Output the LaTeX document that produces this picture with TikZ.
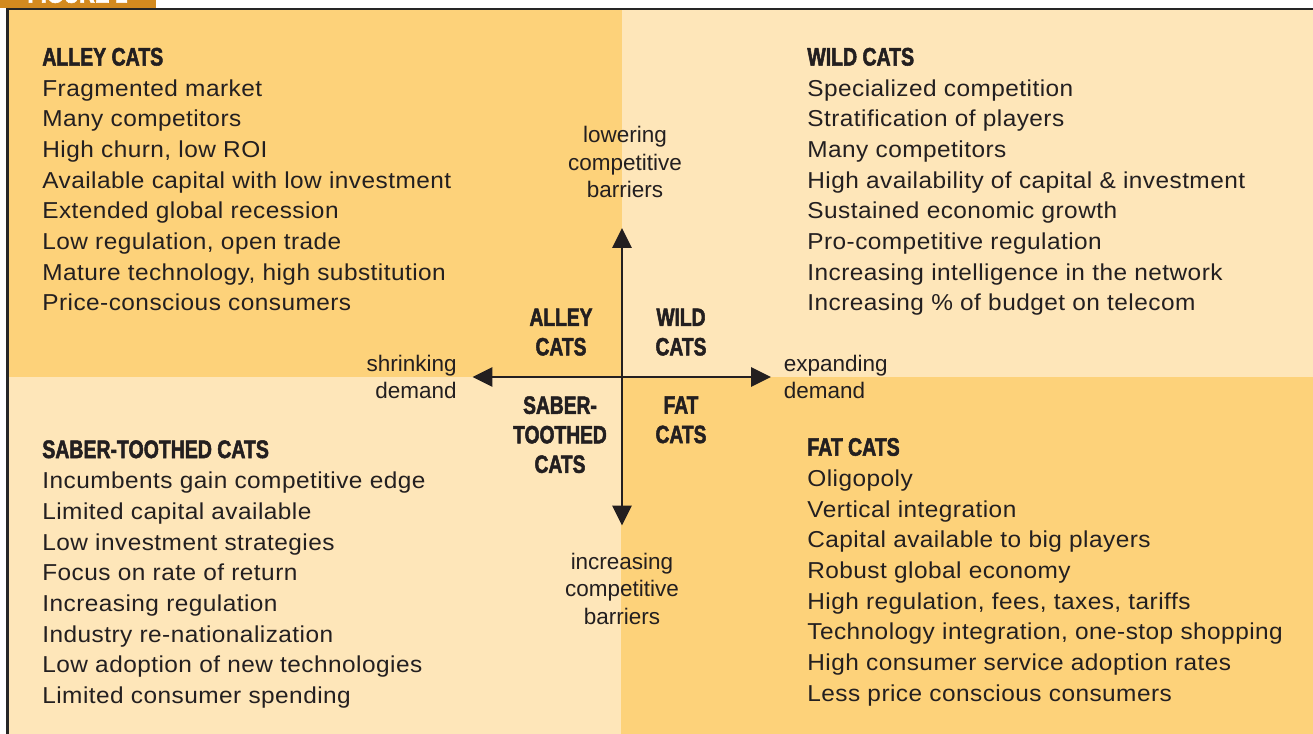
\documentclass[tikz,border=0pt]{standalone}
\usepackage{fontspec}
\setmainfont{Liberation Sans}
\newfontfamily\catfont[FakeStretch=0.77,FakeBold=2]{Liberation Sans}
\newfontfamily\bodyfont[FakeStretch=1.06,LetterSpace=2]{Liberation Sans}
\usetikzlibrary{arrows.meta,positioning}

\definecolor{catdark}{HTML}{FDD27A}
\definecolor{catlight}{HTML}{FEE6B9}
\definecolor{tabamber}{HTML}{D38A1F}
\definecolor{inkgrey}{HTML}{231F20}

\newcommand{\cathead}[1]{{\catfont\bfseries\fontsize{14.4}{17.5}\selectfont #1}}

\begin{document}
\begin{tikzpicture}[
    x=0.02cm, y=-0.02cm,
    quadtext/.style={anchor=north west, inner sep=0pt, align=left, text=inkgrey,
                     font=\bodyfont\fontsize{13.1}{17.46}\selectfont},
    catlbl/.style={anchor=north, inner sep=0pt, align=center, text=inkgrey,
                   font=\catfont\bfseries\fontsize{14.2}{16.8}\selectfont},
    axislbl/.style={inner sep=0pt, text=inkgrey, font=\fontsize{12.8}{15.7}\selectfont},
    axis/.style={line width=1.7pt, inkgrey,
                 {Triangle[length=0.4cm,width=0.38cm]}-{Triangle[length=0.4cm,width=0.38cm]}},
]
\useasboundingbox (0,0) rectangle (1313,734);

% Tab
\begin{scope}
  \clip (0,0) rectangle (156,7.5);
  \fill[tabamber] (0,0) rectangle (156,7.5);
  \node[anchor=base, inner sep=0pt, text=white,
        font=\catfont\bfseries\fontsize{16}{16}\selectfont] (tab) at (77.5,2.7) {FIGURE 1};
\end{scope}

% Quadrants
\fill[catdark]  (8,9)     rectangle (622,377);
\fill[catlight] (622,9)   rectangle (1313,377);
\fill[catlight] (8,377)   rectangle (622,734);
\fill[catdark]  (621,377) rectangle (1313,734);

% Frame
\draw[line width=1.6pt, black!85] (7.5,734) |- (1313,9);

% Quadrant lists
\node[quadtext] (alley) at (42,47.5) {\cathead{ALLEY CATS}\\
    Fragmented market\\
    Many competitors\\
    High churn, low ROI\\
    Available capital with low investment\\
    Extended global recession\\
    Low regulation, open trade\\
    Mature technology, high substitution\\
    Price-conscious consumers};

\node[quadtext] (wild) at (807,47.5) {\cathead{WILD CATS}\\
    Specialized competition\\
    Stratification of players\\
    Many competitors\\
    High availability of capital \& investment\\
    Sustained economic growth\\
    Pro-competitive regulation\\
    Increasing intelligence in the network\\
    Increasing \% of budget on telecom};

\node[quadtext] (saber) at (42,440) {\cathead{SABER-TOOTHED CATS}\\
    Incumbents gain competitive edge\\
    Limited capital available\\
    Low investment strategies\\
    Focus on rate of return\\
    Increasing regulation\\
    Industry re-nationalization\\
    Low adoption of new technologies\\
    Limited consumer spending};

\node[quadtext] (fat) at (807,437.7) {\cathead{FAT CATS}\\
    Oligopoly\\
    Vertical integration\\
    Capital available to big players\\
    Robust global economy\\
    High regulation, fees, taxes, tariffs\\
    Technology integration, one-stop shopping\\
    High consumer service adoption rates\\
    Less price conscious consumers};

% Axes
\coordinate (ctr)  at (622,377);
\coordinate (tipN) at (622,228);
\coordinate (tipS) at (622,525.5);
\coordinate (tipW) at (472.5,377);
\coordinate (tipE) at (771,377);

\draw[axis] (tipW) -- (tipE);
\draw[axis] (tipN) -- (tipS);

% Centre labels
\node[catlbl] (alleyc) at (561,308.3) {ALLEY\\CATS};
\node[catlbl] (wildc)  at (681,308.3) {WILD\\CATS};
\node[catlbl] (saberc) at (560,396)   {SABER-\\TOOTHED\\CATS};
\node[catlbl] (fatc)   at (681,396)   {FAT\\CATS};

% Axis labels
\node[axislbl, align=center, above=0.594cm of tipN, xshift=0.06cm] (lower) {lowering\\competitive\\barriers};
\node[axislbl, align=center, below=0.54cm of tipS] (raise) {increasing\\competitive\\barriers};
\node[axislbl, align=right, left=0.31cm of tipW] (shrink) {shrinking\\demand};
\node[axislbl, align=left, right=0.25cm of tipE] (expand) {expanding\\demand};

\end{tikzpicture}
\end{document}
